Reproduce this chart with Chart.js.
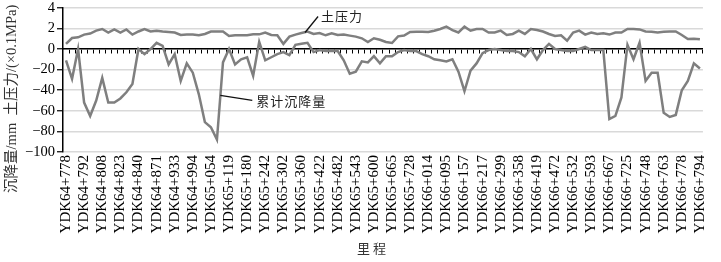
<!DOCTYPE html>
<html>
<head>
<meta charset="utf-8">
<script src="https://cdn.jsdelivr.net/npm/chart.js"></script>
<style>
  html, body { margin: 0; padding: 0; background: #fff; }
  #wrap { width: 721px; height: 262px; }
</style>
</head>
<body>
<div id="wrap"><canvas id="c" width="721" height="262"></canvas></div>
<script>
// ---- data ----
const stationLabels = [
  'YDK64+778','YDK64+792','YDK64+808','YDK64+823','YDK64+840','YDK64+871',
  'YDK64+933','YDK64+994','YDK65+054','YDK65+119','YDK65+180','YDK65+242',
  'YDK65+302','YDK65+360','YDK65+422','YDK65+482','YDK65+543','YDK65+600',
  'YDK65+665','YDK65+728','YDK66+014','YDK66+095','YDK66+157','YDK66+217',
  'YDK66+299','YDK66+358','YDK66+419','YDK66+472','YDK66+532','YDK66+593',
  'YDK66+667','YDK66+725','YDK66+748','YDK66+763','YDK66+778','YDK66+794'
];
// cumulative settlement, mm
const settlement = [
  -11,-29,0,-52,-65,-50,-28,-52,-52,-48,
  -42,-34,0,-5,0,6,3,-15,-5,-31,
  -14,-23,-44,-71,-76,-88,-13,0,-15,-10,
  -8,-26,7,-11,-8,-5,-3,-6,4,5,
  6,-3,-1,-2,-2,-2,-11,-24,-22,-12,
  -13,-7,-14,-7,-7,-3,-1,-2,-2,-5,
  -7,-10,-11,-12,-10,-22,-41,-21,-14,-4,
  -1,0,-1,-2,-2,-3,-7,0,-10,-1,
  5,0,-1,-2,-2,0,2,-1,-1,-1,
  -68,-65,-47,4,-10,6,-31,-23,-23,-62,
  -66,-64,-40,-31,-14,-19
];
// earth pressure, ×0.1 MPa
const soilPressure = [
  0.5,1.07,1.13,1.4,1.5,1.78,1.94,1.6,1.9,1.6,
  1.9,1.4,1.7,1.94,1.7,1.78,1.7,1.65,1.6,1.36,
  1.4,1.4,1.33,1.46,1.7,1.7,1.7,1.26,1.33,1.33,
  1.33,1.42,1.42,1.6,1.36,1.33,0.5,1.2,1.4,1.55,
  1.7,1.46,1.55,1.33,1.52,1.36,1.4,1.3,1.2,1.04,
  0.68,1.04,0.9,0.68,0.58,1.23,1.3,1.65,1.68,1.68,
  1.65,1.78,1.94,2.17,1.84,1.6,2.17,1.78,1.94,1.94,
  1.6,1.6,1.78,1.36,1.46,1.78,1.46,1.94,1.84,1.7,
  1.46,1.26,1.33,0.8,1.6,1.78,1.4,1.6,1.46,1.52,
  1.4,1.6,1.6,1.94,1.94,1.9,1.7,1.68,1.6,1.68,
  1.7,1.7,1.36,0.97,1.0,0.94
];
// y tick labels from bottom (-100) to top
const yTickLabels = ['\u2212100','\u221280','\u221260','\u221240','\u221220','0','2','4'];
const yTitle = '沉降量/mm  土压力/(×0.1MPa)';
const xTitle = '里程';
const pressureLabel = '土压力';
const settlementLabel = '累计沉降量';

// ---- build chart ----
const LABEL_STEP = 3; // every third station carries a label
const categories = settlement.map((_, i) => i % LABEL_STEP === 0 ? stationLabels[i / LABEL_STEP] : '');
const PRESSURE_SCALE = 10; // 0.1 MPa unit drawn on the upper part of the shared axis (2 -> 20)

const serif = '"Liberation Serif", "Times New Roman", serif';
const cjk = '"Liberation Serif", "Noto Sans CJK SC", serif';

const annotPlugin = {
  id: 'annot',
  afterDraw(chart) {
    const { ctx, chartArea, scales } = chart;
    const x = scales.x, y = scales.y;
    ctx.save();
    // y title
    ctx.save();
    ctx.translate(chartArea.left - 51, chartArea.top + 91);
    ctx.rotate(-Math.PI / 2);
    ctx.font = '14.5px ' + cjk;
    ctx.fillStyle = '#333';
    ctx.textAlign = 'center';
    ctx.textBaseline = 'middle';
    ctx.fillText(yTitle, 0, 0);
    ctx.restore();
    // x title
    ctx.font = '13px "Noto Sans CJK SC", sans-serif';
    ctx.fillStyle = '#333';
    ctx.textAlign = 'center';
    ctx.textBaseline = 'middle';
    ctx.letterSpacing = '3px';
    ctx.fillText(xTitle, chartArea.left + 310, chartArea.bottom + 96);
    ctx.letterSpacing = '1px';
    // leader lines + labels
    ctx.strokeStyle = '#111';
    ctx.lineWidth = 1.3;
    ctx.font = '13px "Noto Sans CJK SC", sans-serif';
    ctx.fillStyle = '#222';
    ctx.textAlign = 'left';
    // pressure
    let ax = x.getPixelForValue(39.6), ay = y.getPixelForValue(16);
    ctx.beginPath(); ctx.moveTo(ax, ay); ctx.lineTo(ax + 13, ay - 16); ctx.stroke();
    ctx.fillText(pressureLabel, ax + 16, ay - 16);
    // settlement
    ax = x.getPixelForValue(25.55); ay = y.getPixelForValue(-45);
    ctx.beginPath(); ctx.moveTo(ax, ay); ctx.lineTo(ax + 32, ay + 5); ctx.stroke();
    ctx.fillText(settlementLabel, ax + 36, ay + 6);
    ctx.restore();
  }
};

new Chart(document.getElementById('c'), {
  type: 'line',
  data: {
    labels: categories,
    datasets: [
      {
        label: settlementLabel,
        data: settlement,
        borderColor: '#7f7f7f',
        borderWidth: 2.5,
        pointRadius: 0,
        tension: 0,
        xAxisID: 'x', yAxisID: 'y'
      },
      {
        label: pressureLabel,
        data: soilPressure.map(v => v * PRESSURE_SCALE),
        borderColor: '#7f7f7f',
        borderWidth: 2.5,
        pointRadius: 0,
        tension: 0,
        xAxisID: 'x', yAxisID: 'y'
      }
    ]
  },
  options: {
    responsive: false,
    animation: false,
    devicePixelRatio: 1,
    layout: { padding: { top: 6, right: 18, left: 0, bottom: 0 } },
    plugins: { legend: { display: false }, tooltip: { enabled: false } },
    scales: {
      x: {
        type: 'category',
        position: 'bottom',
        offset: true,
        grid: { display: false, drawTicks: false },
        border: { display: false },
        ticks: {
          autoSkip: false,
          minRotation: 90,
          maxRotation: 90,
          padding: 3,
          color: '#000',
          font: { family: serif, size: 15 }
        },
        afterFit(s) { s.height = 110; }
      },
      x2: {
        type: 'category',
        position: { y: 0 },
        offset: true,
        grid: {
          offset: true,
          drawOnChartArea: false,
          drawTicks: true,
          tickLength: 4,
          tickColor: '#000',
          tickWidth: 1
        },
        border: { display: true, color: '#000', width: 1.5 },
        ticks: { display: false }
      },
      y: {
        type: 'linear',
        min: -100,
        max: 40,
        ticks: {
          stepSize: 20,
          padding: 2,
          color: '#000',
          font: { family: serif, size: 14.5, lineHeight: 0.8 },
          callback: (v, i) => yTickLabels[i]
        },
        grid: {
          color: '#d9d9d9',
          lineWidth: 1.5,
          tickColor: '#000',
          tickLength: 6,
          tickWidth: 1.2
        },
        border: { display: true, color: '#000', width: 1.5 },
        afterFit(s) { s.width = 63; }
      }
    }
  },
  plugins: [annotPlugin]
});
</script>
</body>
</html>
